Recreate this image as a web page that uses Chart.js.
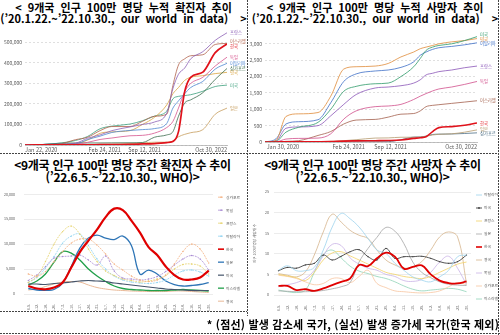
<!DOCTYPE html>
<html lang="ko">
<head>
<meta charset="utf-8">
<script src="https://cdn.jsdelivr.net/npm/chart.js@4.4.1/dist/chart.umd.min.js"></script>
<style>
  body { margin: 0; background: #fff; }
  #page { position: relative; width: 500px; height: 335px; overflow: hidden; font-family: 'Noto Sans CJK KR', sans-serif; }
  .title { position: absolute; text-align: center; font-weight: 700; color: #000; white-space: nowrap; }
  .top-title { top: 2px; font-size: 11px; line-height: 10.5px; word-spacing: 3px; }
  .bot-title { top: 159px; font-size: 12px; line-height: 12px; letter-spacing: -0.3px; }
  canvas { position: absolute; }
  .dash-h { position: absolute; height: 1px; background: repeating-linear-gradient(to right, #444 0 2px, transparent 2px 3px); }
  .dash-v { position: absolute; width: 1px; background: repeating-linear-gradient(to bottom, #444 0 2px, transparent 2px 3px); }
  #note { position: absolute; right: 1px; top: 318px; font-size: 11px; line-height: 12px; letter-spacing: 0.2px; font-weight: 700; white-space: nowrap; }
</style>
</head>
<body>
<div id="page">
  <div class="title top-title" style="left:0;width:247px">&lt; 9개국 인구 100만 명당 누적 확진자 추이<br>(’20.1.22.~’22.10.30., our world in data) &nbsp;&gt;</div>
  <div class="title top-title" style="left:250px;width:250px">&lt; 9개국 인구 100만 명당 누적 사망자 추이<br>(’20.1.22.~’22.10.30., our world in data) &nbsp;&gt;</div>
  <div class="title bot-title" style="left:0;width:245px">&lt;9개국 인구 100만 명당 주간 확진자 수 추이<br>(’22.6.5.~’22.10.30., WHO)&gt;</div>
  <div class="title bot-title" style="left:248px;width:249px">&lt;9개국 인구 100만 명당 주간 사망자 수 추이<br>(’22.6.5.~’22.10.30., WHO)&gt;</div>

  <canvas id="casesTotal" width="247" height="134" style="left:0;top:20px"></canvas>
  <canvas id="deathsTotal" width="252" height="123" style="left:248px;top:28px"></canvas>
  <canvas id="casesWeekly" width="247" height="128" style="left:0;top:183px"></canvas>
  <canvas id="deathsWeekly" width="252" height="128" style="left:248px;top:183px"></canvas>

  <div class="dash-h" style="left:0;top:153px;width:499px"></div>
  <div class="dash-v" style="left:247px;top:0;height:316px"></div>
  <div class="dash-h" style="left:0;top:311px;width:247px"></div>
  <div class="dash-v" style="left:498px;top:0;height:335px"></div>
  <div class="dash-h" style="left:0;top:333px;width:500px"></div>

  <div id="note">* (점선) 발생 감소세 국가, (실선) 발생 증가세 국가(한국 제외)</div>
</div>

<script>
// ---- cumulative charts (our world in data) ----
const cumDates = ['2020-01-22', '2020-03-15', '2020-05-01', '2020-07-01', '2020-10-01', '2020-12-01',
  '2021-02-01', '2021-04-01', '2021-07-01', '2021-09-01', '2021-11-01', '2022-01-01', '2022-02-01',
  '2022-03-01', '2022-04-01', '2022-05-01', '2022-07-01', '2022-09-01', '2022-10-30'];
const casesTickDates = ['2020-01-22', '2021-02-24', '2021-09-12', '2022-10-30'];
const casesTickLabels = ['Jan 22, 2020', 'Feb 24, 2021', 'Sep 12, 2021', 'Oct 30, 2022'];
const deathsTickDates = ['2020-01-30', '2021-02-24', '2021-09-12', '2022-10-30'];
const deathsTickLabels = ['Jan 30, 2020', 'Feb 24, 2021', 'Sep 12, 2021', 'Oct 30, 2022'];
const casesYTicks = [0, 100000, 200000, 300000, 400000, 500000];
const deathsYTicks = [0, 500, 1000, 1500, 2000, 2500, 3000];

// cumulative confirmed cases per million
const totCasesFRA = [0, 70, 2500, 3000, 9000, 33000, 49000, 70000, 88000, 100000, 112000, 155000, 275000, 345000, 375000, 420000, 455000, 510000, 547000];
const totCasesISR = [0, 30, 1800, 2800, 26000, 38000, 70000, 90000, 90000, 115000, 140000, 150000, 290000, 390000, 420000, 435000, 440000, 490000, 495000];
const totCasesKOR = [0, 150, 200, 250, 500, 700, 1500, 2000, 3100, 5000, 7000, 12000, 17000, 65000, 260000, 330000, 355000, 450000, 492000];
const totCasesDEU = [0, 70, 2000, 2300, 3500, 13000, 27000, 34000, 45000, 47000, 58000, 85000, 115000, 180000, 260000, 300000, 330000, 385000, 428000];
const totCasesITA = [0, 400, 3400, 4000, 5000, 27000, 43000, 61000, 71000, 75000, 80000, 105000, 180000, 215000, 250000, 280000, 310000, 370000, 398000];
const totCasesSGP = [0, 40, 3000, 7500, 10000, 10000, 10000, 10500, 11000, 12000, 38000, 49000, 65000, 140000, 205000, 220000, 255000, 320000, 373000];
const totCasesGBR = [0, 20, 2600, 4700, 7000, 24000, 57000, 64000, 70000, 100000, 135000, 195000, 250000, 280000, 315000, 330000, 338000, 348000, 354000];
const totCasesUSA = [0, 10, 3300, 8000, 22000, 42000, 79000, 92000, 102000, 118000, 141000, 165000, 225000, 237000, 241000, 245000, 262000, 285000, 292000];
const totCasesJPN = [0, 10, 100, 150, 700, 1200, 3100, 3800, 6300, 10000, 13600, 13800, 20000, 40000, 52000, 60000, 75000, 150000, 180000];

// cumulative deaths per million
const totDeathsUSA = [0, 20, 300, 450, 600, 1000, 1550, 1700, 1780, 1800, 2000, 2300, 2550, 2800, 2900, 2950, 3000, 3100, 3220];
const totDeathsGBR = [0, 50, 780, 860, 900, 1400, 2230, 2300, 2320, 2400, 2600, 2750, 2850, 2900, 2950, 3000, 3060, 3100, 3160];
const totDeathsITA = [0, 100, 550, 620, 680, 1200, 1850, 2080, 2170, 2200, 2280, 2450, 2650, 2750, 2830, 2880, 2920, 2970, 3030];
const totDeathsFRA = [0, 30, 420, 460, 500, 800, 1150, 1450, 1650, 1680, 1720, 1800, 1900, 2050, 2100, 2150, 2200, 2270, 2320];
const totDeathsDEU = [0, 5, 90, 110, 120, 250, 700, 950, 1080, 1100, 1150, 1300, 1400, 1480, 1560, 1620, 1680, 1760, 1850];
const totDeathsISR = [0, 0, 20, 40, 200, 320, 550, 670, 690, 760, 850, 870, 950, 1080, 1120, 1140, 1180, 1220, 1260];
const totDeathsKOR = [0, 2, 5, 6, 7, 10, 28, 34, 40, 45, 60, 110, 130, 160, 320, 440, 470, 510, 580];
const totDeathsJPN = [0, 0, 3, 8, 12, 18, 40, 70, 120, 125, 145, 146, 150, 175, 215, 235, 250, 300, 370];
const totDeathsSGP = [0, 0, 1, 5, 5, 5, 5, 5, 7, 10, 70, 150, 155, 180, 230, 240, 245, 260, 280];

// ---- weekly charts (WHO) ----
const weekLabels = ['6.5.', '6.12.', '6.19.', '6.26.', '7.3.', '7.10.', '7.17.', '7.24.', '7.31.', '8.7.', '8.14.',
  '8.21.', '8.28.', '9.4.', '9.11.', '9.18.', '9.25.', '10.2.', '10.9.', '10.16.', '10.23.', '10.30.'];

// weekly cases per million
const weekCasesSGP = [4000, 3600, 4500, 6500, 8500, 10200, 11000, 11000, 9800, 8000, 6000, 4800, 3600, 2800, 2500, 2800, 3800, 6000, 8500, 10000, 9000, 6200];
const weekCasesDEU = [2700, 3800, 5500, 7200, 7500, 7600, 7800, 6800, 5800, 7600, 4600, 3200, 3000, 2800, 3000, 3500, 4500, 5800, 7000, 7700, 7000, 4800];
const weekCasesFRA = [2300, 3500, 6500, 10000, 12500, 13600, 12000, 9000, 6500, 4600, 3700, 3000, 2700, 2400, 2600, 3000, 3700, 5000, 5900, 6000, 5600, 4000];
const weekCasesITA = [2300, 3300, 5200, 7500, 10200, 11600, 12000, 9700, 7000, 5000, 3600, 2800, 2400, 2200, 2100, 2300, 2800, 3800, 4600, 4800, 4400, 3600];
const weekCasesKOR = [1600, 1100, 950, 1300, 2300, 5300, 8400, 10700, 12900, 15400, 17100, 16800, 14700, 12300, 9400, 7800, 5500, 3800, 2900, 2900, 3300, 4700];
const weekCasesJPN = [1100, 800, 750, 900, 2200, 5500, 9200, 11200, 11800, 11200, 10900, 11600, 9700, 4000, 4800, 4000, 2600, 1900, 1600, 1700, 1900, 2300];
const weekCasesUSA = [2000, 2000, 1900, 2100, 2200, 2400, 2600, 2700, 2600, 2500, 2200, 2000, 1800, 1600, 1400, 1200, 1000, 900, 800, 700, 700, 700];
const weekCasesISR = [1800, 2600, 4000, 6400, 8500, 8200, 6800, 5000, 3600, 2500, 1600, 1100, 900, 800, 700, 700, 700, 800, 900, 800, 700, 600];
const weekCasesGBR = [800, 1000, 1500, 2000, 2400, 2500, 2400, 1800, 1300, 1000, 800, 700, 600, 550, 500, 500, 500, 600, 600, 500, 400, 300];

// weekly deaths per million
const weekDeathsITA = [6.0, 7.1, 5.9, 5.9, 6.7, 10.9, 16.5, 19.8, 18.5, 16.5, 13.7, 10.9, 10.1, 7.7, 6.0, 4.4, 3.6, 3.2, 4.4, 6.0, 9.3, 9.7];
const weekDeathsUSA = [5.9, 6.7, 6.5, 7.3, 7.7, 9.7, 8.5, 9.4, 10.5, 11.0, 9.3, 8.5, 11.3, 8.9, 9.3, 9.3, 9.4, 8.9, 8.1, 7.7, 8.1, 9.7];
const weekDeathsFRA = [5.0, 4.6, 4.2, 3.5, 5.5, 8.5, 10.2, 10.5, 9.5, 8.5, 7.5, 6.5, 5.5, 5.0, 4.5, 4.2, 4.0, 4.5, 5.5, 6.5, 7.5, 8.0];
const weekDeathsJPN = [1.0, 0.9, 0.8, 0.8, 0.9, 1.1, 1.5, 2.0, 3.0, 8.0, 11.3, 14.0, 16.4, 15.5, 12.5, 8.0, 5.5, 4.2, 3.2, 2.6, 2.4, 2.3];
const weekDeathsKOR = [2.2, 2.2, 1.2, 1.4, 1.0, 1.6, 2.4, 3.2, 4.0, 7.3, 7.0, 8.9, 10.3, 9.3, 6.4, 6.8, 7.2, 5.0, 3.5, 2.9, 2.8, 3.3];
const weekDeathsGBR = [5.2, 4.8, 4.4, 5.6, 9.7, 15.3, 19.6, 17.7, 15.7, 14.5, 13.7, 10.9, 8.5, 7.3, 6.5, 6.9, 8.1, 10.9, 14.1, 15.3, 14.1, 2.8];
const weekDeathsDEU = [2.0, 2.5, 3.0, 4.0, 6.0, 9.5, 12.3, 12.0, 9.0, 7.5, 6.5, 6.0, 5.0, 4.5, 3.5, 3.3, 3.8, 5.5, 8.0, 9.4, 6.5, 2.5];
const weekDeathsSGP = [4.8, 4.5, 4.0, 3.2, 2.5, 2.8, 4.0, 4.0, 3.0, 4.5, 6.0, 2.8, 1.8, 1.0, 0.8, 0.6, 0.5, 0.6, 1.0, 2.0, 3.0, 2.5];
const weekDeathsISR = [1.2, 0.8, 0.6, 1.2, 5.5, 9.8, 10.9, 9.0, 7.0, 5.8, 5.2, 4.5, 4.0, 3.2, 2.2, 1.4, 1.0, 1.2, 1.4, 1.6, 1.4, 0.8];

const KO_FONT = "'Noto Sans CJK KR', 'Noto Sans', sans-serif";
Chart.defaults.font.family = KO_FONT;

const DAY = 86400000;
const dayOf = d => (Date.parse(d) - Date.parse(cumDates[0])) / DAY;

// label at the end of each line, OWID style
const endLabels = {
  id: 'endLabels',
  afterDatasetsDraw(chart, args, opts) {
    const ctx = chart.ctx;
    const items = chart.data.datasets.map((ds, i) => {
      const pts = chart.getDatasetMeta(i).data;
      const last = pts[pts.length - 1];
      return { text: ds.label, color: ds.borderColor, x: last.x, y: last.y };
    }).sort((a, b) => a.y - b.y);
    for (let k = 0; k < 30; k++) {
      for (let i = 1; i < items.length; i++) {
        const d = items[i].y - items[i - 1].y;
        if (d < opts.gap) {
          const s = (opts.gap - d) / 2;
          items[i - 1].y -= s;
          items[i].y += s;
        }
      }
    }
    ctx.save();
    ctx.font = opts.size + 'px ' + KO_FONT;
    ctx.textBaseline = 'middle';
    items.forEach(it => {
      ctx.fillStyle = it.color;
      ctx.fillText(it.text, it.x + 3, it.y);
    });
    ctx.restore();
  }
};

// excel style legend at the right of the plot
const sideLegend = {
  id: 'sideLegend',
  afterDraw(chart, args, opts) {
    const ctx = chart.ctx, area = chart.chartArea;
    ctx.save();
    ctx.font = opts.size + 'px ' + KO_FONT;
    ctx.textBaseline = 'middle';
    chart.data.datasets.forEach((ds, i) => {
      const x = area.right + opts.dx, y = area.top + opts.dy + i * opts.step;
      ctx.strokeStyle = ds.borderColor;
      ctx.lineWidth = Math.min(ds.borderWidth, 1.6);
      ctx.setLineDash(ds.borderDash || []);
      ctx.beginPath();
      ctx.moveTo(x, y);
      ctx.lineTo(x + 6, y);
      ctx.stroke();
      if (ds.pointRadius) {
        ctx.fillStyle = ds.borderColor;
        ctx.beginPath();
        ctx.arc(x + 3, y, 0.9, 0, Math.PI * 2);
        ctx.fill();
      }
      ctx.fillStyle = '#595959';
      ctx.fillText(ds.label, x + 8, y);
    });
    ctx.restore();
  }
};

function cumLine(label, values, color, width) {
  return {
    label,
    data: values.map((v, i) => ({ x: dayOf(cumDates[i]), y: v })),
    borderColor: color,
    backgroundColor: color,
    borderWidth: width,
    pointRadius: 0,
    cubicInterpolationMode: 'monotone',
    order: label === '한국' ? 0 : 1
  };
}

function weekLine(label, values, color, width, dashed) {
  return {
    label,
    data: values,
    borderColor: color,
    backgroundColor: color,
    borderWidth: width,
    borderDash: dashed ? [2, 1] : [],
    pointRadius: dashed ? 0.7 : 0,
    pointBorderWidth: 0,
    pointBackgroundColor: color,
    tension: 0.4,
    order: label === '한국' ? 0 : 1
  };
}

function cumOptions(tickDates, tickLabels, yTicks, yMax, padRight, padTop, yWidth) {
  return {
    responsive: false,
    animation: false,
    events: [],
    layout: { padding: { top: padTop, right: padRight, left: 0, bottom: 0 } },
    plugins: { legend: { display: false }, tooltip: { enabled: false }, endLabels: { size: 4.3, gap: 4.5 } },
    scales: {
      x: {
        type: 'linear',
        min: 0,
        max: dayOf('2022-10-30'),
        afterBuildTicks: s => { s.ticks = tickDates.map(d => ({ value: dayOf(d) })); },
        afterFit: s => { s.height = 9; },
        ticks: {
          autoSkip: false,
          callback: (v, i) => tickLabels[i],
          align: 'inner', maxRotation: 0,
          font: { size: 5.5 }, color: '#5a5a5a', padding: 1.5
        },
        grid: { display: false, drawTicks: false },
        border: { display: true, color: '#a8a8a8', width: 0.7 }
      },
      y: {
        type: 'linear',
        min: 0,
        max: yMax,
        afterBuildTicks: s => { s.ticks = yTicks.map(v => ({ value: v })); },
        afterFit: s => { s.width = yWidth; },
        ticks: { autoSkip: false, callback: v => v.toLocaleString('en-US'), font: { size: 5 }, color: '#5a5a5a', padding: 3 },
        grid: { color: '#d2d2d2', lineWidth: 0.7, drawTicks: false },
        border: { display: false, dash: [2, 2] }
      }
    }
  };
}

function weekOptions(yMax, yStep, yWidth, padRight, padTop, xHeight, yPad, yTitle) {
  return {
    responsive: false,
    animation: false,
    events: [],
    layout: { padding: { top: padTop, right: padRight, left: 0, bottom: 0 } },
    plugins: { legend: { display: false }, tooltip: { enabled: false }, sideLegend: { size: 3.8, dx: 5, dy: 3, step: 13 } },
    scales: {
      x: {
        offset: true,
        afterFit: s => { s.height = xHeight; },
        ticks: { autoSkip: false, minRotation: 90, maxRotation: 90, font: { size: 3.6 }, color: '#595959', padding: 2 },
        grid: { display: false },
        border: { display: false }
      },
      y: {
        min: 0,
        max: yMax,
        afterFit: s => { s.width = yWidth; },
        ticks: { stepSize: yStep, callback: v => v.toLocaleString('en-US'), font: { size: 3.6 }, color: '#595959', padding: yPad },
        grid: { color: '#d9d9d9', lineWidth: 0.5, drawTicks: false },
        border: { display: false },
        title: { display: !!yTitle, text: yTitle, font: { size: 3.6 }, color: '#595959', padding: { top: 4, bottom: 0 } }
      }
    }
  };
}

new Chart(document.getElementById('casesTotal'), {
  type: 'line',
  data: {
    datasets: [
      cumLine('프랑스', totCasesFRA, '#8c5fb5', 0.8),
      cumLine('이스라엘', totCasesISR, '#b0614a', 0.8),
      cumLine('한국', totCasesKOR, '#e0121b', 1.7),
      cumLine('독일', totCasesDEU, '#d6548e', 0.8),
      cumLine('이탈리아', totCasesITA, '#4d86d1', 0.8),
      cumLine('싱가포르', totCasesSGP, '#3b6b4b', 0.8),
      cumLine('영국', totCasesGBR, '#d9a441', 0.8),
      cumLine('미국', totCasesUSA, '#3c9f7c', 0.8),
      cumLine('일본', totCasesJPN, '#c69d5d', 0.8)
    ]
  },
  options: cumOptions(casesTickDates, casesTickLabels, casesYTicks, 580000, 20, 2, 25),
  plugins: [endLabels]
});

new Chart(document.getElementById('deathsTotal'), {
  type: 'line',
  data: {
    datasets: [
      cumLine('미국', totDeathsUSA, '#2f9a6a', 0.8),
      cumLine('영국', totDeathsGBR, '#e08b3a', 0.8),
      cumLine('이탈리아', totDeathsITA, '#3d6fc6', 0.8),
      cumLine('프랑스', totDeathsFRA, '#8a56b8', 0.8),
      cumLine('독일', totDeathsDEU, '#d04f8b', 0.8),
      cumLine('이스라엘', totDeathsISR, '#a3604c', 0.8),
      cumLine('한국', totDeathsKOR, '#e0121b', 1.6),
      cumLine('일본', totDeathsJPN, '#b59a6e', 0.8),
      cumLine('싱가포르', totDeathsSGP, '#4d6f86', 0.8)
    ]
  },
  options: cumOptions(deathsTickDates, deathsTickLabels, deathsYTicks, 3300, 23, 3, 17),
  plugins: [endLabels]
});

new Chart(document.getElementById('casesWeekly'), {
  type: 'line',
  data: {
    labels: weekLabels,
    datasets: [
      weekLine('싱가포르', weekCasesSGP, '#f4b183', 0.8, true),
      weekLine('독일', weekCasesDEU, '#a98bd3', 0.8, true),
      weekLine('프랑스', weekCasesFRA, '#e6d36e', 0.8, true),
      weekLine('이탈리아', weekCasesITA, '#8fd3f0', 0.8, true),
      weekLine('한국', weekCasesKOR, '#e00000', 2.2, false),
      weekLine('일본', weekCasesJPN, '#2e75b6', 1.3, false),
      weekLine('미국', weekCasesUSA, '#44546a', 1.2, false),
      weekLine('이스라엘', weekCasesISR, '#22a04b', 1.3, false),
      weekLine('영국', weekCasesGBR, '#e6b08a', 0.9, false)
    ]
  },
  options: weekOptions(20000, 5000, 24, 34, 6, 17, 9, ''),
  plugins: [sideLegend]
});

new Chart(document.getElementById('deathsWeekly'), {
  type: 'line',
  data: {
    labels: weekLabels,
    datasets: [
      weekLine('이탈리아', weekDeathsITA, '#9dd3ee', 0.8, false),
      Object.assign(weekLine('미국', weekDeathsUSA, '#404040', 0.9, false), { pointRadius: 0.6 }),
      weekLine('프랑스', weekDeathsFRA, '#f2d266', 0.8, false),
      weekLine('일본', weekDeathsJPN, '#a5a5a5', 0.8, false),
      weekLine('한국', weekDeathsKOR, '#e00000', 1.8, false),
      weekLine('영국', weekDeathsGBR, '#d6b48c', 0.8, false),
      weekLine('독일', weekDeathsDEU, '#c9b3e6', 0.8, false),
      weekLine('싱가포르', weekDeathsSGP, '#f8c59f', 0.8, false),
      weekLine('이스라엘', weekDeathsISR, '#8fd3b8', 0.8, false)
    ]
  },
  options: weekOptions(25, 5, 26, 29, 9, 16, 5, '인구 100만 명당 사망자 수'),
  plugins: [sideLegend]
});
</script>
</body>
</html>
